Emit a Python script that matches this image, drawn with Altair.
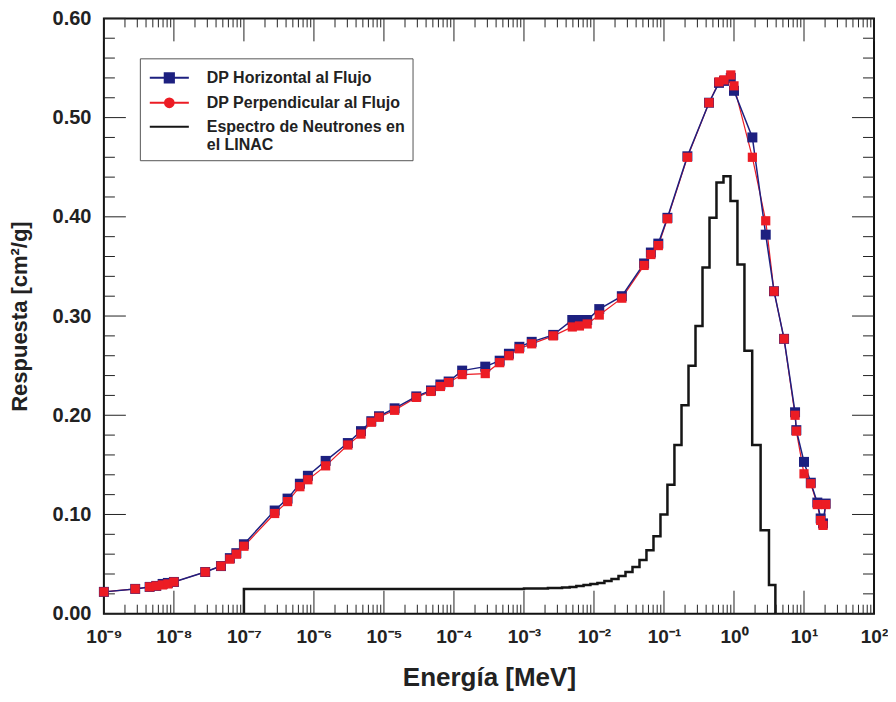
import altair as alt
import pandas as pd

# ---------------- data ----------------
energia = [1e-9, 2.8e-9, 4.5e-9, 5.6e-9, 6.9e-9, 8.2e-9, 1e-8, 2.8e-8, 4.7e-8, 6.3e-8,
           7.8e-8, 1e-7, 2.75e-7, 4.2e-7, 6.3e-7, 8.2e-7, 1.47e-6, 3.05e-6, 4.7e-6, 6.6e-6,
           8.5e-6, 1.42e-5, 2.9e-5, 4.7e-5, 6.4e-5, 8.4e-5, 1.31e-4, 2.8e-4, 4.5e-4, 6.1e-4,
           8.6e-4, 1.29e-3, 2.62e-3, 4.9e-3, 6.2e-3, 8e-3, 1.19e-2, 2.5e-2, 5.2e-2, 6.5e-2,
           8.3e-2, 0.112, 0.216, 0.44, 0.61, 0.72, 0.9, 1.0, 1.83, 2.84,
           3.73, 5.19, 7.45, 7.77, 10.0, 12.5, 15.5, 17.3, 18.7, 20.4]

resp_horizontal = [0.022, 0.025, 0.027, 0.028, 0.030, 0.031, 0.032, 0.042, 0.048, 0.056,
                   0.061, 0.070, 0.104, 0.116, 0.131, 0.139, 0.154, 0.172, 0.184, 0.194,
                   0.199, 0.207, 0.219, 0.225, 0.231, 0.234, 0.245, 0.249, 0.255, 0.262,
                   0.269, 0.274, 0.281, 0.296, 0.296, 0.296, 0.307, 0.320, 0.353, 0.364,
                   0.373, 0.399, 0.461, 0.515, 0.535, 0.537, 0.540, 0.527, 0.480, 0.382,
                   0.325, 0.277, 0.203, 0.185, 0.153, 0.132, 0.112, 0.096, 0.091, 0.111]

resp_perpendicular = [0.022, 0.025, 0.027, 0.028, 0.029, 0.030, 0.032, 0.042, 0.048, 0.055,
                      0.060, 0.068, 0.101, 0.113, 0.128, 0.135, 0.149, 0.170, 0.181, 0.193,
                      0.198, 0.205, 0.218, 0.224, 0.229, 0.233, 0.241, 0.242, 0.253, 0.260,
                      0.267, 0.272, 0.280, 0.289, 0.290, 0.292, 0.301, 0.318, 0.351, 0.362,
                      0.371, 0.398, 0.460, 0.515, 0.536, 0.538, 0.543, 0.532, 0.460, 0.396,
                      0.325, 0.277, 0.200, 0.184, 0.141, 0.131, 0.110, 0.094, 0.089, 0.110]

espectro_e = [1e-7, 1e-7, 1e-3, 2.2e-3, 3.5e-3, 4.5e-3, 5.6e-3, 7.1e-3, 8.9e-3, 1.12e-2,
              1.41e-2, 1.78e-2, 2.24e-2, 2.82e-2, 3.55e-2, 4.47e-2, 5.62e-2, 7.08e-2, 8.91e-2, 0.112,
              0.141, 0.178, 0.224, 0.282, 0.355, 0.447, 0.562, 0.708, 0.891, 1.12,
              1.41, 1.82, 2.4, 3.16, 3.9]
espectro_v = [0.0, 0.025, 0.0255, 0.026, 0.0265, 0.027, 0.028, 0.029, 0.030, 0.031,
              0.033, 0.035, 0.038, 0.042, 0.047, 0.054, 0.064, 0.078, 0.100, 0.130,
              0.170, 0.210, 0.250, 0.290, 0.349, 0.399, 0.4345, 0.441, 0.416, 0.352,
              0.265, 0.170, 0.084, 0.029, 0.0]

series = ["DP Horizontal al Flujo", "DP Perpendicular al Flujo",
          "Espectro de Neutrones en el LINAC"]
colores = ["#1d2080", "#ec1c24", "#151515"]
simbolos = ["M-1.7,0H1.7M-0.4,-0.4H0.4V0.4H-0.4Z",
            "M-1.7,0H1.7M0.38,0A0.38,0.38,0,1,1,-0.38,0A0.38,0.38,0,1,1,0.38,0Z",
            "M-1.7,0H1.7"]

x_decadas = [1e-9, 1e-8, 1e-7, 1e-6, 1e-5, 1e-4, 1e-3, 1e-2, 1e-1, 1e0, 1e1, 1e2]
x_etiquetas = ["10⁻⁹", "10⁻⁸", "10⁻⁷", "10⁻⁶", "10⁻⁵", "10⁻⁴", "10⁻³", "10⁻²", "10⁻¹",
               "10⁰", "10¹", "10²"]
x_menores = [m * d for d in x_decadas[:-1] for m in range(2, 10)]
y_mayores = [0.0, 0.1, 0.2, 0.3, 0.4, 0.5, 0.6]
y_menores = [0.02, 0.04, 0.06, 0.08, 0.12, 0.14, 0.16, 0.18, 0.22, 0.24, 0.26, 0.28,
             0.32, 0.34, 0.36, 0.38, 0.42, 0.44, 0.46, 0.48, 0.52, 0.54, 0.56, 0.58]

df = pd.DataFrame({"E": energia, "H": resp_horizontal, "P": resp_perpendicular})
df_esp = pd.DataFrame({"E": espectro_e, "v": espectro_v})
df_leg = pd.DataFrame({"serie": series})

# ---------------- layout ----------------
W, H = 771, 596
FONT = "Liberation Sans"
INK = "#222222"
X_MAJ, X_MIN, Y_MAJ, Y_MIN = 23, 9, 22, 11   # inward tick lengths (px)
xs = alt.Scale(type="log", domain=[1e-9, 100], nice=False)
ys = alt.Scale(domain=[0, 0.6], nice=False, zero=False)
lbl_arr = "[" + ",".join("'%s'" % s for s in x_etiquetas) + "]"

axis_x_lab = alt.Axis(orient="bottom", values=x_decadas,
                      labelExpr=lbl_arr + "[round(log(datum.value)/LN10)+9]",
                      ticks=False, domain=False, grid=False, labelFlush=False,
                      labelOverlap=False, labelFont=FONT, labelFontSize=19,
                      labelFontWeight="bold", labelColor=INK, labelPadding=14,
                      title="Energía [MeV]", titleFont=FONT, titleFontSize=26,
                      titleFontWeight="bold", titleColor=INK, titlePadding=18)
axis_y_lab = alt.Axis(orient="left", values=y_mayores, format=".2f", ticks=False,
                      domain=False, grid=False, labelFlush=False, labelFont=FONT,
                      labelFontSize=20, labelFontWeight="bold", labelColor=INK,
                      labelPadding=13, title="Respuesta [cm²/g]", titleFont=FONT,
                      titleFontSize=22, titleFontWeight="bold", titleColor=INK,
                      titlePadding=21)

espectro = alt.Chart(df_esp).mark_line(
    interpolate="step-after", color=colores[2], strokeWidth=2.5
).encode(
    x=alt.X("E:Q", scale=xs, axis=axis_x_lab),
    y=alt.Y("v:Q", scale=ys, axis=axis_y_lab),
)


# inward frame ticks, positioned by the scales
def xticks(values, y0, y1):
    return alt.Chart(pd.DataFrame({"t": values})).mark_rule(
        color=INK, strokeWidth=1).encode(
        x=alt.X("t:Q", scale=xs, axis=None), y=alt.value(y0), y2=alt.value(y1))


def yticks(values, x0, x1):
    return alt.Chart(pd.DataFrame({"t": values})).mark_rule(
        color=INK, strokeWidth=1).encode(
        y=alt.Y("t:Q", scale=ys, axis=None), x=alt.value(x0), x2=alt.value(x1))


ticks = [
    xticks(x_decadas, H, H - X_MAJ), xticks(x_menores, H, H - X_MIN),
    xticks(x_decadas, 0, X_MAJ), xticks(x_menores, 0, X_MIN),
    yticks(y_mayores, 0, Y_MAJ), yticks(y_menores, 0, Y_MIN),
    yticks(y_mayores, W, W - Y_MAJ), yticks(y_menores, W, W - Y_MIN),
]

linea_p = alt.Chart(df).mark_line(color=colores[1], strokeWidth=1.2).encode(
    x=alt.X("E:Q", scale=xs, axis=None),
    y=alt.Y("P:Q", scale=ys, axis=None),
)

linea_h = alt.Chart(df).mark_line(color=colores[0], strokeWidth=1.5).encode(
    x=alt.X("E:Q", scale=xs, axis=None),
    y=alt.Y("H:Q", scale=ys, axis=None),
)

puntos_h = alt.Chart(df).mark_point(
    shape="square", filled=True, size=100, color=colores[0], opacity=1
).encode(
    x=alt.X("E:Q", scale=xs, axis=None),
    y=alt.Y("H:Q", scale=ys, axis=None),
)

puntos_p = alt.Chart(df).mark_point(
    shape="square", filled=True, size=85, color=colores[1], opacity=1
).encode(
    x=alt.X("E:Q", scale=xs, axis=None),
    y=alt.Y("P:Q", scale=ys, axis=None),
)

leyenda = alt.Legend(
    orient="none", legendX=36, legendY=40, title=None,
    labelFont=FONT, labelFontSize=16, labelFontWeight="bold", labelColor=INK,
    labelExpr="datum.label == 'Espectro de Neutrones en el LINAC' ? "
              "['Espectro de Neutrones en', 'el LINAC'] : datum.label",
    labelLimit=400, padding=7, symbolOffset=10, labelOffset=25, symbolSize=529,
    symbolStrokeWidth=2, rowPadding=3, strokeColor="#555555", fillColor="white",
)

capa_leyenda = alt.Chart(df_leg).transform_filter("false").mark_point(
    filled=True, opacity=1
).encode(
    shape=alt.Shape("serie:N", scale=alt.Scale(domain=series, range=simbolos), legend=leyenda),
    fill=alt.Fill("serie:N", scale=alt.Scale(domain=series, range=colores), legend=leyenda),
    stroke=alt.Stroke("serie:N", scale=alt.Scale(domain=series, range=colores), legend=leyenda),
)

chart = alt.layer(
    espectro, *ticks, linea_p, linea_h, puntos_h, puntos_p, capa_leyenda
).resolve_axis(
    x="independent", y="independent"
).properties(
    width=W, height=H,
    autosize=alt.AutoSizeParams(type="none"),
    padding={"left": 96, "top": 10, "right": 14, "bottom": 80},
    background="white",
).configure(
    font=FONT
).configure_view(
    stroke="#111111", strokeWidth=2
)

chart.save("out.html", embed_options={"renderer": "svg", "actions": False})
